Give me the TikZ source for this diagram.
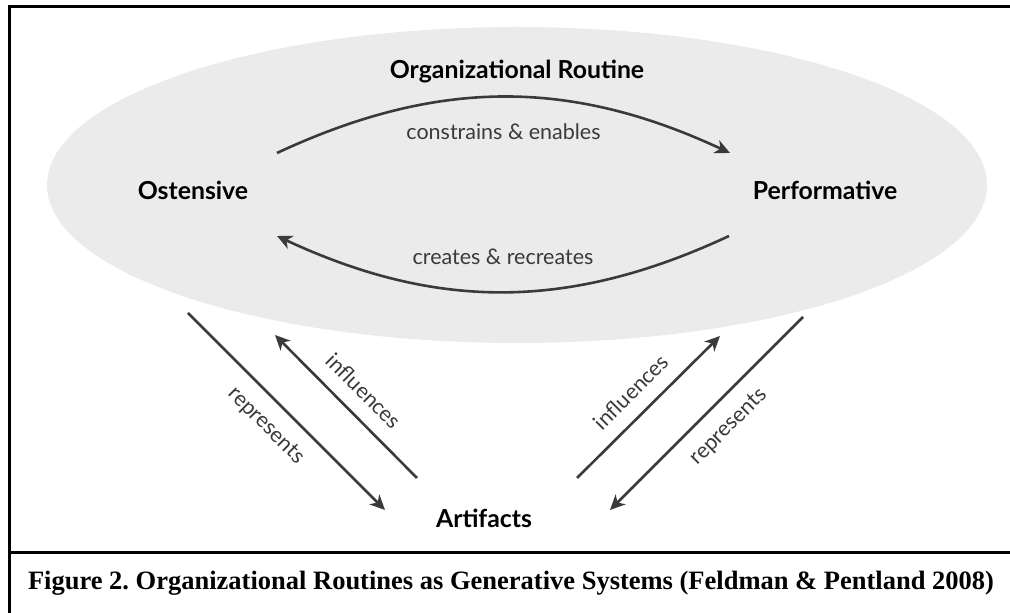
\documentclass[tikz,border=0pt]{standalone}
\usepackage{fontspec}
\setmainfont{Liberation Serif}
\newfontfamily\labfont{Lato}
\usepackage{tikz}
\usetikzlibrary{arrows.meta}
\definecolor{oval}{HTML}{EBEBEB}
\definecolor{ink}{HTML}{3A3A3C}
\frenchspacing

\begin{document}
\begin{tikzpicture}[x=1pt, y=1pt,
      heading/.style={font=\labfont\bfseries\fontsize{24.8}{28}\selectfont, text=black},
      lbl/.style={font=\labfont\fontsize{21.5}{24}\selectfont, text=ink},
      arr/.style={draw=ink, line width=2.6pt, -{Stealth[length=15pt, width=14pt, inset=4.5pt]}}]
      \useasboundingbox (0,0) rectangle (1010,613);
      % frame and caption
      \draw[line width=3pt] (9,0) -- (9,606) -- (1010,606);
      \draw[line width=3pt] (9,60) -- (1010,60);
      \node[font=\bfseries\fontsize{26.5}{30}\selectfont] (cap) at (511,30)
         {Figure 2. Organizational Routines as Generative Systems (Feldman \& Pentland 2008)};
      % the routine
      \fill[oval] (517,428) ellipse [x radius=470, y radius=158];
      \node[heading] (R) at (517,541) {Organizational Routine};
      \node[heading] (O) at (193,423) {Ostensive};
      \node[heading] (P) at (825,423) {Performative};
      \node[heading] (A) at (484,95) {Artifacts};
      \coordinate (O-out) at (277,460);
      \coordinate (O-in)  at (277,377);
      \coordinate (P-in)  at (730,460);
      \coordinate (P-out) at (729,377);
      \draw[arr] (O-out) to[bend left=25] node[lbl, below=22pt] (ce) {constrains \& enables} (P-in);
      \draw[arr] (P-out) to[bend left=25] node[lbl, above=23pt] (cr) {creates \& recreates} (O-in);
      % artifacts
      \coordinate (O-rep) at (188,300);
      \coordinate (A-rep) at (385,103);
      \coordinate (A-inf) at (417,135);
      \coordinate (O-inf) at (275,278);
      \coordinate (A-inf2) at (577,135);
      \coordinate (P-inf) at (720,277);
      \coordinate (P-rep) at (803,296);
      \coordinate (A-rep2) at (610,103);
      \draw[arr] (O-rep) -- (A-rep);
      \draw[arr] (A-inf) -- (O-inf);
      \draw[arr] (A-inf2) -- (P-inf);
      \draw[arr] (P-rep) -- (A-rep2);
      \node[lbl, rotate=-45] (r1) at (266,187) {represents};
      \node[lbl, rotate=-45] (i1) at (364,222) {influences};
      \node[lbl, rotate=45]  (i2) at (631,221) {influences};
      \node[lbl, rotate=45]  (r2) at (729,186) {represents};
\end{tikzpicture}
\end{document}
